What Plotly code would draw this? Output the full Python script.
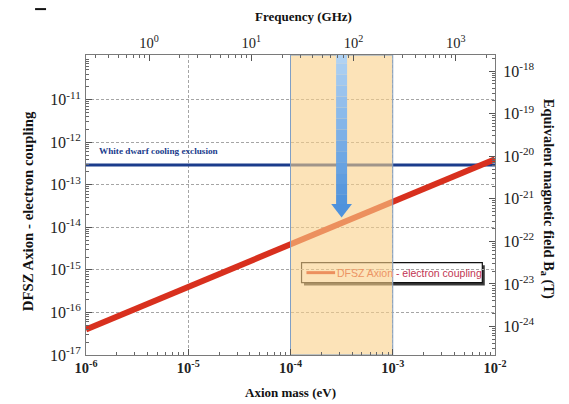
import numpy as np
import plotly.graph_objects as go

# ---------------- data ----------------
mass_range = [1e-6, 1e-2]              # eV
dfsz_coupling = [4.0e-17, 4.0e-13]     # g_ae at the range ends
white_dwarf_limit = 2.9e-13            # g_ae
band_mass = [1e-4, 1e-3]               # highlighted mass window (eV)
arrow_mass = 3.16e-4                   # eV
arrow_tip_coupling = 1.7e-14
ghz_per_ev = 2.418e5                   # frequency conversion
b_field_per_coupling = 10 ** -7.67     # right axis offset
mass_tick_exp = [-6, -5, -4, -3, -2]
coupling_tick_exp = [-17, -16, -15, -14, -13, -12, -11]
freq_tick_exp = [0, 1, 2, 3]
b_tick_exp = [-24, -23, -22, -21, -20, -19, -18]
wd_label = "White dwarf cooling exclusion"
legend_label = "DFSZ Axion - electron coupling"

# ---------------- style ----------------
SERIF = "Liberation Serif"
SANS = "Liberation Sans"
Y_RANGE = [-17, -9.95]
X_RANGE = [np.log10(mass_range[0]), np.log10(mass_range[1])]
off = np.log10(b_field_per_coupling)
Y2_RANGE = [Y_RANGE[0] + off, Y_RANGE[1] + off]
X2_RANGE = [X_RANGE[0] + np.log10(ghz_per_ev), X_RANGE[1] + np.log10(ghz_per_ev)]


def minors(e0, e1):
    return [k * 10.0 ** e for e in range(e0, e1 + 1) for k in range(2, 10)]


def sup(e, bold=False):
    t = f"10<sup>{e}</sup>"
    return f"<b>{t}</b>" if bold else t


fig = go.Figure()

# white dwarf limit
fig.add_trace(go.Scatter(x=mass_range, y=[white_dwarf_limit] * 2, mode="lines",
                         line=dict(color="#1b3c8c", width=3), hoverinfo="skip",
                         showlegend=False))
# DFSZ line
fig.add_trace(go.Scatter(x=mass_range, y=dfsz_coupling, mode="lines",
                         line=dict(color="#d8301e", width=6), hoverinfo="skip",
                         showlegend=False))
# highlighted band (semi transparent, tints what is under it)
ylo, yhi = 10 ** Y_RANGE[0], 10 ** Y_RANGE[1]
fig.add_trace(go.Scatter(x=[band_mass[0], band_mass[1], band_mass[1], band_mass[0], band_mass[0]],
                         y=[ylo, ylo, yhi, yhi, ylo], mode="lines", fill="toself",
                         fillcolor="rgba(250,208,136,0.6)",
                         line=dict(color="#7f9fc6", width=1), hoverinfo="skip",
                         showlegend=False))

# arrow shaft with gradient
head_size = 18
px_per_dec = 300 / (Y_RANGE[1] - Y_RANGE[0])
head_center = np.log10(arrow_tip_coupling) + (head_size / 2) / px_per_dec
shaft_bottom = head_center + (head_size * 0.15) / px_per_dec
nseg = 14
ys = np.linspace(Y_RANGE[1] + 0.05, shaft_bottom, nseg + 1)
c0 = np.array([176, 210, 243])
c1 = np.array([82, 148, 220])
for i in range(nseg):
    t = i / (nseg - 1)
    c = (c0 * (1 - t) + c1 * t).astype(int)
    fig.add_trace(go.Scatter(x=[arrow_mass, arrow_mass], y=[10 ** ys[i], 10 ** ys[i + 1]],
                             mode="lines", line=dict(color=f"rgb({c[0]},{c[1]},{c[2]})", width=11),
                             hoverinfo="skip", showlegend=False))
fig.add_trace(go.Scatter(x=[arrow_mass], y=[10 ** head_center], mode="markers",
                         marker=dict(symbol="triangle-down", size=head_size, color="#4f92dc",
                                     line=dict(width=0)),
                         hoverinfo="skip", showlegend=False))

# dummy trace for the secondary axes
fig.add_trace(go.Scatter(x=[m * ghz_per_ev for m in mass_range],
                         y=[10 ** Y2_RANGE[0], 10 ** Y2_RANGE[1]],
                         xaxis="x2", yaxis="y2", mode="lines",
                         line=dict(color="rgba(0,0,0,0)"), hoverinfo="skip",
                         showlegend=False))

axis_common = dict(type="log", showline=True, linecolor="#7a7a7a", linewidth=1,
                   ticks="inside", ticklen=6, tickcolor="#555", tickwidth=1)
YTICKFONT = dict(family=SERIF, size=16, color="#222")
XTICKFONT = dict(family=SERIF, size=14.5, color="#222")

fig.update_layout(
    width=569, height=404,
    margin=dict(l=86, r=74, t=55, b=49),
    paper_bgcolor="white", plot_bgcolor="white",
    showlegend=False,
    xaxis=dict(**axis_common, range=X_RANGE,
               tickvals=[10.0 ** e for e in mass_tick_exp],
               ticktext=[sup(e, True) for e in mass_tick_exp],
               tickfont=XTICKFONT,
               showgrid=True, gridcolor="#a5a5a5", griddash="3px,2px", gridwidth=1,
               minor=dict(tickvals=minors(-6, -3), ticks="inside", ticklen=3,
                          tickcolor="#666", showgrid=False)),
    yaxis=dict(**axis_common, range=Y_RANGE,
               tickvals=[10.0 ** e for e in coupling_tick_exp],
               ticktext=[sup(e) for e in coupling_tick_exp],
               tickfont=YTICKFONT, ticklabelstandoff=1,
               showgrid=True, gridcolor="#a5a5a5", griddash="3px,2px", gridwidth=1,
               minor=dict(tickvals=minors(-17, -11), ticks="inside", ticklen=3,
                          tickcolor="#666", showgrid=False)),
    xaxis2=dict(**axis_common, range=X2_RANGE, overlaying="x", side="top", anchor="y",
                tickvals=[10.0 ** e for e in freq_tick_exp],
                ticktext=[sup(e) for e in freq_tick_exp],
                tickfont=XTICKFONT,
                showgrid=False,
                minor=dict(tickvals=minors(-1, 3), ticks="inside", ticklen=3,
                           tickcolor="#666", showgrid=False)),
    yaxis2=dict(**axis_common, range=Y2_RANGE, overlaying="y", side="right", anchor="x",
                tickvals=[10.0 ** e for e in b_tick_exp],
                ticktext=[sup(e) for e in b_tick_exp],
                tickfont=YTICKFONT, ticklabelstandoff=4,
                showgrid=False,
                minor=dict(tickvals=minors(-25, -18), ticks="inside", ticklen=3,
                           tickcolor="#666", showgrid=False)),
)

# legend box drawn by hand (under the band so it gets tinted)
lx0, lx1, ly0, ly1 = 0.527, 0.969, 0.241, 0.308
fig.add_shape(type="rect", xref="paper", yref="paper", x0=lx0 + 0.006, x1=lx1 + 0.006,
              y0=ly0 - 0.009, y1=ly1 - 0.009, fillcolor="#3a3a3a", line=dict(width=0),
              layer="between")
fig.add_shape(type="rect", xref="paper", yref="paper", x0=lx0, x1=lx1, y0=ly0, y1=ly1,
              fillcolor="white", line=dict(color="#111", width=1.2), layer="between")
fig.add_shape(type="line", xref="paper", yref="paper", x0=lx0 + 0.012, x1=lx0 + 0.082,
              y0=(ly0 + ly1) / 2, y1=(ly0 + ly1) / 2,
              line=dict(color="#d8301e", width=3), layer="between")
fig.add_annotation(xref="paper", yref="paper", x=lx0 + 0.083, y=(ly0 + ly1) / 2,
                   xanchor="left", yanchor="middle", showarrow=False,
                   text="<span style='color:#ec9464'>DFSZ Axion </span>"
                        "<span style='color:#c23452'>- electron coupling</span>",
                   font=dict(family=SANS, size=10.5))

# white dwarf label
fig.add_annotation(xref="paper", yref="y", x=0.027, y=np.log10(white_dwarf_limit) + 0.33,
                   xanchor="left", yanchor="middle", showarrow=False, text=f"<b>{wd_label}</b>",
                   font=dict(family=SERIF, size=9.2, color="#1b3c8c"))

# axis titles
fig.add_annotation(xref="paper", yref="paper", x=0.5, y=-0.125, showarrow=False,
                   text="<b>Axion mass (eV)</b>", font=dict(family=SERIF, size=13, color="#111"),
                   yanchor="middle")
fig.add_annotation(xref="paper", yref="paper", x=0.532, y=1.127, showarrow=False,
                   text="<b>Frequency (GHz)</b>", font=dict(family=SERIF, size=13, color="#111"),
                   yanchor="middle")
fig.add_annotation(xref="paper", yref="paper", x=-0.142, y=0.479, showarrow=False, textangle=-90,
                   text="<b>DFSZ Axion - electron coupling</b>",
                   font=dict(family=SERIF, size=14.8, color="#111"), xanchor="center", yanchor="middle")
fig.add_annotation(xref="paper", yref="paper", x=1.13, y=0.52, showarrow=False, textangle=90,
                   text="<b>Equivalent magnetic field B<sub>a</sub> (T)</b>",
                   font=dict(family=SERIF, size=14.5, color="#111"), xanchor="center", yanchor="middle")

# small dash at top-left corner of the source image
fig.add_shape(type="line", xref="paper", yref="paper", x0=-0.1245, x1=-0.0977, y0=1.153, y1=1.153,
              line=dict(color="#111", width=2))

fig.write_html("out.html")
